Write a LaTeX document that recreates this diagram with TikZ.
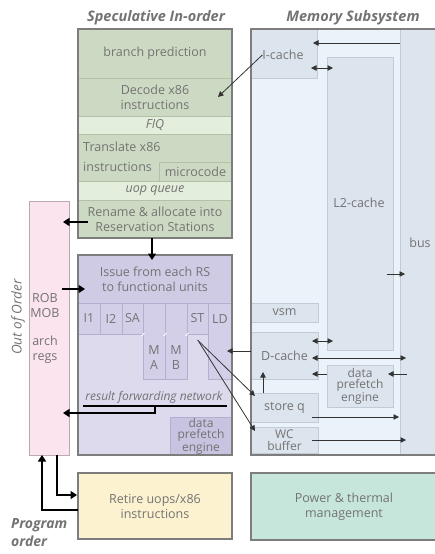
\documentclass[tikz,border=0pt]{standalone}
\usepackage{fontspec}
\setmainfont{Open Sans}
\usepackage{xcolor}
\usetikzlibrary{arrows.meta,positioning}
\definecolor{txtgray}{HTML}{737373}
\definecolor{edgegray}{HTML}{7D7D7D}
\definecolor{grnA}{HTML}{CDDAC3}
\definecolor{grnB}{HTML}{E4EEDC}
\definecolor{grnline}{HTML}{B3C1A8}
\definecolor{pinkA}{HTML}{FCE4EE}
\definecolor{pinkline}{HTML}{BBAAB2}
\definecolor{purA}{HTML}{DDDAEE}
\definecolor{purB}{HTML}{CFCBE5}
\definecolor{purC}{HTML}{D3CFE8}
\definecolor{purD}{HTML}{C8C3E0}
\definecolor{purline}{HTML}{B4AFD0}
\definecolor{memA}{HTML}{EAF2FA}
\definecolor{memB}{HTML}{DCE4ED}
\definecolor{memline}{HTML}{C2CBD5}
\definecolor{pwrA}{HTML}{C6E6DC}
\definecolor{retA}{HTML}{FCF2D0}
\tikzset{
  txt/.style={text=txtgray,align=center,inner sep=0pt,font=\fontsize{12.5}{15}\selectfont},
  tight/.style={font=\fontsize{12}{11.5}\selectfont},
  blk/.style={txt,draw=#1,line width=0.6pt,outer sep=0pt,minimum width=154pt},
  grnbox/.style={blk=grnline,fill=grnA},
  grnlite/.style={blk=grnline,fill=grnB,font=\fontsize{12.5}{15}\selectfont\itshape},
  purunit/.style={blk=purline,fill=purC,minimum width=22pt},
  memcell/.style={blk=memline,fill=memB,anchor=north west,minimum width=67pt},
  outline/.style={draw=edgegray,line width=1.6pt},
  hdr/.style={text=txtgray,inner sep=0pt,font=\fontsize{14.5}{17}\selectfont\bfseries\itshape},
  side/.style={text=txtgray,inner sep=0pt,font=\fontsize{13.5}{18}\selectfont\itshape},
  thin/.style={-{Triangle[length=5.5pt,width=5.5pt]},line width=0.8pt,draw=black!80},
  dthin/.style={{Triangle[length=5.5pt,width=5.5pt]}-{Triangle[length=5.5pt,width=5.5pt]},line width=0.8pt,draw=black!80},
  fat/.style={-{Triangle[length=6.5pt,width=8pt]},line width=2.4pt,draw=black},
}

\begin{document}
\begin{tikzpicture}[x=1pt,y=-1pt]
	\useasboundingbox (0,0) rectangle (435,554);
	\clip (0,0) rectangle (435,554);
	%
	% speculative in-order
	\node[hdr] (spec) at (156,18) {Speculative In-order};
	\node[grnbox,minimum height=49pt] (bp) at (155,53.5) {branch prediction};
	\node[grnbox,minimum height=38pt] (dec) at (155,97) {Decode x86\\instructions};
	\node[grnlite,minimum height=18pt] (fiq) at (155,125) {FIQ};
	\node[grnbox,minimum height=47pt] (trans) at (155,157.5) {};
	\node[grnbox,minimum width=73pt,minimum height=19pt] (mcode) at (195.5,171.5) {microcode};
	\node[txt,anchor=west] (transA) at (83,147) {Translate x86};
	\node[txt,anchor=west] (transB) at (83,167) {instructions};
	\node[grnlite,minimum height=19pt] (uopq) at (155,190.5) {uop queue};
	\node[grnbox,minimum height=38pt] (ren) at (155,219) {Rename \& allocate into\\Reservation Stations};
	\draw[outline] (bp.north west) rectangle (ren.south east);
	%
	% out of order
	\node[blk=pinkline,fill=pinkA,minimum width=40pt,minimum height=254pt] (ooo) at (49,328) {};
	\node[txt] (rob) at (45,306) {ROB\\MOB};
	\node[txt] (arch) at (45,350) {arch\\regs};
	\node[side,rotate=90] (oootxt) at (18,317) {Out of Order};
	%
	% issue
	\node[blk=purline,fill=purA,minimum height=200pt] (iss) at (155,355) {};
	\node[blk=purline,fill=purB,minimum height=48pt] (issh) at (155,279) {Issue from each RS\\to functional units};
	\node[purunit,minimum height=31pt] (i1) at (89,318.5) {I1};
	\node[purunit,minimum height=31pt] (i2) at (111,318.5) {I2};
	\node[purunit,minimum width=21pt,minimum height=31pt] (sa) at (132.5,318.5) {SA};
	\node[purunit,minimum height=76pt] (ma) at (154,341) {};
	\node[purunit,minimum height=76pt] (mb) at (176,341) {};
	\node[purunit,minimum width=21pt,minimum height=31pt] (st) at (197.5,318.5) {ST};
	\node[purunit,minimum width=24pt,minimum height=76pt] (ld) at (220,341) {};
	\node[txt] (maT) at ([yshift=-17pt]ma.center) {M\\A};
	\node[txt] (mbT) at ([yshift=-17pt]mb.center) {M\\B};
	\node[txt] (ldT) at ([yshift=22pt]ld.center) {LD};
	\draw[white,line width=0.9pt] ([xshift=-1.5pt,yshift=-33pt]ma.north west) -- ([xshift=1.5pt,yshift=-30pt]ma.north west);
	\draw[white,line width=0.9pt] ([xshift=-1.5pt,yshift=-33pt]mb.north west) -- ([xshift=1.5pt,yshift=-30pt]mb.north west);
	\draw[white,line width=0.9pt] ([xshift=-1.5pt,yshift=-33pt]st.north west) -- ([xshift=1.5pt,yshift=-30pt]st.north west);
	\node[txt,font=\fontsize{12}{14}\selectfont\itshape] (rfn) at (154,397) {result forwarding network};
	\node[blk=purline,fill=purD,minimum width=62pt,minimum height=38pt,tight] (dpeA) at (201,436) {data\\prefetch\\engine};
	\draw[outline] (iss.north west) rectangle (iss.south east);
	%
	% memory subsystem
	\node[hdr] (memT) at (353,18) {Memory Subsystem};
	\node[blk=memline,fill=memA,anchor=north west,minimum width=186pt,minimum height=426pt] (mem) at (251,29) {};
	\node[blk=memline,fill=memB,anchor=north west,minimum width=37pt,minimum height=426pt] (bus) at (400,29) {};
	\node[txt] (busT) at (420,243) {bus};
	\node[memcell,minimum width=66pt,minimum height=49pt] (ic) at (251,29) {};
	\node[txt] (icT) at (283,55) {I-cache};
	\node[memcell,minimum width=66pt,minimum height=293pt] (l2) at (327,57) {};
	\node[txt] (l2T) at (359,203) {L2-cache};
	\node[memcell,minimum height=19pt] (vsm) at (251,303) {vsm};
	\node[memcell,minimum height=47pt] (dc) at (251,332) {D-cache};
	\node[memcell,minimum width=66pt,minimum height=42pt,tight] (dpeB) at (327,365) {data\\prefetch\\engine};
	\node[memcell,minimum height=29pt] (sq) at (251,393) {store q};
	\node[memcell,minimum height=26pt,tight] (wc) at (251,427) {WC\\buffer};
	\draw[outline] (mem.north west) rectangle (mem.south east);
	%
	% bottom row
	\node[blk=edgegray,fill=retA,minimum height=66pt] (ret) at (155,506) {Retire uops/x86\\instructions};
	\draw[outline] (ret.north west) rectangle (ret.south east);
	\node[blk=edgegray,fill=pwrA,anchor=north west,minimum width=186pt,minimum height=67pt] (pwr) at (251,473) {Power \& thermal\\management};
	\draw[outline] (pwr.north west) rectangle (pwr.south east);
	\node[side,font=\fontsize{14}{18}\selectfont\bfseries\itshape,anchor=north west,align=left] (prog) at (11,518) {Program\\order};
	%
	% memory connectors
	\draw[thin] (icT.west) -- ([xshift=-14pt]dec.east);
	\draw[thin] ([yshift=-14pt]bus.north west) -- ([xshift=-4pt,yshift=-14pt]ic.north east);
	\draw[dthin] ([xshift=-6pt,yshift=-39pt]ic.north east) -- ([xshift=6pt,yshift=-11pt]l2.north west);
	\draw[thin] ([xshift=-6pt,yshift=-70.5pt]l2.east) -- ([xshift=12pt,yshift=-70.5pt]l2.east);
	\draw[dthin] ([xshift=-6pt,yshift=14.5pt]dc.east) -- ([xshift=6pt,yshift=9pt]l2.south west);
	\draw[dthin] ([xshift=-6pt,yshift=-2.5pt]dc.east) -- ([xshift=6pt,yshift=-2.5pt]bus.west |- dc.east);
	\draw[thin] ([xshift=7pt,yshift=12pt]bus.west |- dpeB.east) -- ([xshift=-5pt,yshift=12pt]dpeB.east);
	\draw[thin] ([yshift=12pt]dpeB.west) -- ([xshift=-6pt,yshift=12pt]dc.east |- dpeB.west);
	\draw[thin] ([xshift=12pt]sq.north west) -- ([xshift=12pt,yshift=7pt]dc.south west);
	\draw[thin] ([xshift=-6pt,yshift=-9.5pt]sq.east) -- ([xshift=-1pt,yshift=-9.5pt]bus.west |- sq.east);
	\draw[thin] ([xshift=-6pt]wc.east) -- ([xshift=6pt]bus.west |- wc.east);
	\draw[thin] ([yshift=4.5pt]dc.west) -- ([xshift=-5pt,yshift=4.5pt]ld.east |- dc.west);
	\draw[thin] ([yshift=-6pt]st.south) -- ([xshift=4pt,yshift=-3pt]sq.north west);
	\draw[thin] ([xshift=1.5pt,yshift=-8pt]st.south) -- ([xshift=4pt,yshift=-4pt]wc.north west);
	%
	% thick connectors
	\draw[fat] ([xshift=10pt,yshift=-3pt]ren.west) -- ([xshift=-15pt,yshift=-3pt]ren.west);
	\draw[fat] ([xshift=-3pt]ren.south) -- ([xshift=-3pt,yshift=-5pt]iss.north);
	\draw[fat] ([xshift=-16pt,yshift=-10pt]issh.west) -- ([xshift=7pt,yshift=-10pt]issh.west);
	\draw[line width=2.4pt] ([xshift=5pt,yshift=-51pt]iss.west) -- ([xshift=-5pt,yshift=-51pt]iss.east);
	\draw[fat] ([yshift=-51pt]iss.center) |- ([xshift=-6pt,yshift=-85pt]ooo.east);
	\draw[fat] ([xshift=8pt]ooo.south) |- ([xshift=-1pt,yshift=11pt]ret.west);
	\draw[fat] ([yshift=-4pt]ret.west) -| ([xshift=-7pt]ooo.south);
\end{tikzpicture}
\end{document}
